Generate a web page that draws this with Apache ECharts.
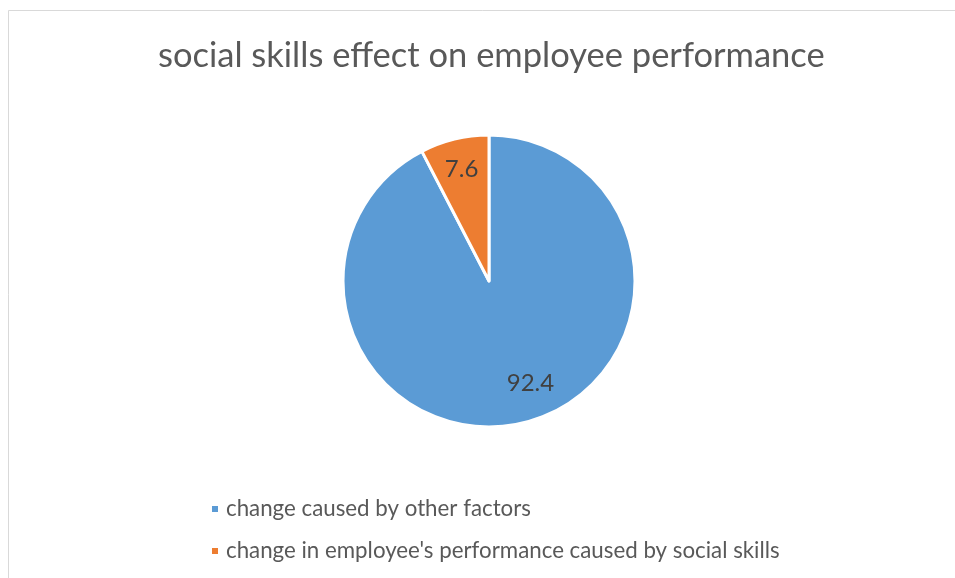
<!DOCTYPE html>
<html>
<head>
<meta charset="utf-8">
<script src="https://cdn.jsdelivr.net/npm/echarts@6/dist/echarts.min.js"></script>
<style>
  html, body { margin: 0; padding: 0; background: #fff; }
  #chart { width: 955px; height: 578px; }
</style>
</head>
<body>
<div id="chart"></div>
<script>
// Share of change in employee performance, in percent
const categories = [
  "change caused by other factors",
  "change in employee's performance caused by social skills"
];
const values = [92.4, 7.6];
const colors = ['#5B9BD5', '#ED7D31'];
// nudges for the value labels
const labelOffsets = [[14, -10], [0, 1]];

const FONT = 'Lato';
const pieData = categories.map((name, i) => ({
  name: name,
  value: values[i],
  itemStyle: { color: colors[i] }
}));

const chart = echarts.init(document.getElementById('chart'), null, { renderer: 'canvas' });
chart.setOption({
  backgroundColor: '#fff',
  animation: false,
  title: {
    text: 'social skills effect on employee performance',
    left: 153,
    top: 33,
    textStyle: { fontFamily: FONT, fontSize: 34.5, fontWeight: 'normal', color: '#595959' }
  },
  graphic: [{
    type: 'rect',
    shape: { x: 8.5, y: 10.5, width: 1000, height: 1000 },
    style: { fill: 'none', stroke: '#d9d9d9', lineWidth: 1 },
    silent: true
  }],
  legend: {
    orient: 'vertical',
    left: 205,
    top: 493,
    itemGap: 20,
    itemWidth: 8,
    itemHeight: 8,
    icon: 'rect',
    data: categories,
    textStyle: { fontFamily: FONT, fontSize: 22.3, color: '#595959', padding: [0, 0, 0, 2] }
  },
  series: [
    {
      type: 'pie',
      center: [489, 281],
      radius: [0, 146],
      startAngle: 90,
      clockwise: true,
      data: pieData,
      itemStyle: { borderColor: '#fff', borderWidth: 3 },
      label: { show: false },
      labelLine: { show: false }
    },
    {
      // transparent ring that carries the value labels further out
      type: 'pie',
      center: [489, 281],
      radius: [80, 146],
      startAngle: 90,
      clockwise: true,
      silent: true,
      data: pieData.map((d, i) => ({
        name: d.name,
        value: d.value,
        itemStyle: { color: 'transparent' },
        label: { offset: labelOffsets[i] }
      })),
      itemStyle: { borderWidth: 0 },
      label: {
        show: true,
        position: 'inside',
        formatter: p => String(p.value),
        fontFamily: FONT,
        fontSize: 24,
        color: '#404040'
      },
      labelLine: { show: false }
    }
  ]
});
</script>
</body>
</html>
